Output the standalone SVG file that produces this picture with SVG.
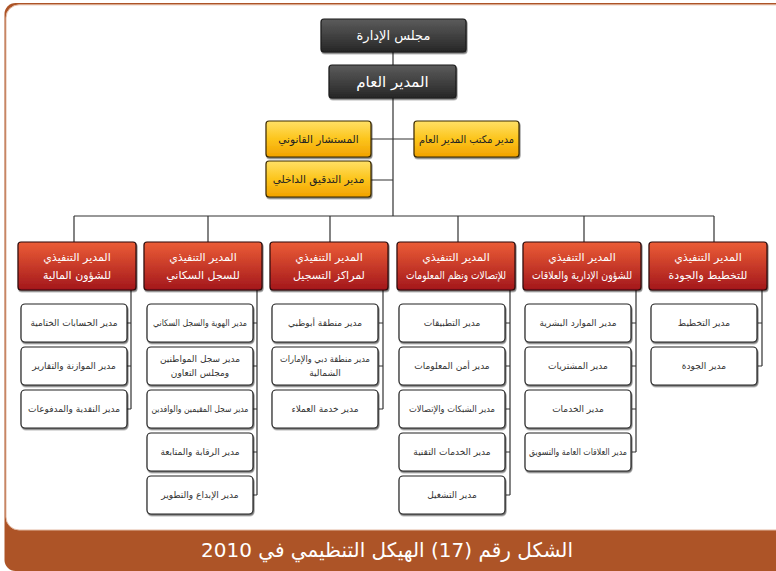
<svg xmlns="http://www.w3.org/2000/svg" width="776" height="571" viewBox="0 0 776 571">
<style>
text{font-family:"DejaVu Sans",sans-serif;direction:rtl;text-anchor:middle}
.dk{fill:url(#gDark);stroke:#1a1a1a;stroke-width:1.2}
.yl{fill:url(#gYel);stroke:#3a2a00;stroke-width:1.2}
.rd{fill:url(#gRed);stroke:#2a0a0a;stroke-width:1.2}
.sb{fill:#fff;stroke:#222;stroke-width:1.2}
.wt{fill:#fff}
.yt{fill:#222;font-size:10.5px}
.st{fill:#333;font-size:9px}
.hd{fill:#fff;font-size:11px}
.ln{stroke:#333;stroke-width:1.2;fill:none}
</style>
<defs>
<linearGradient id="gDark" x1="0" y1="0" x2="0" y2="1"><stop offset="0" stop-color="#5c5c5c"/><stop offset="1" stop-color="#262626"/></linearGradient>
<linearGradient id="gYel" x1="0" y1="0" x2="0" y2="1"><stop offset="0" stop-color="#ffe066"/><stop offset="0.5" stop-color="#fcc51c"/><stop offset="1" stop-color="#f2a200"/></linearGradient>
<linearGradient id="gRed" x1="0" y1="0" x2="0" y2="1"><stop offset="0" stop-color="#ec5d36"/><stop offset="1" stop-color="#a3171c"/></linearGradient>
<filter id="sh" x="-10%" y="-10%" width="120%" height="130%"><feDropShadow dx="0.8" dy="1.5" stdDeviation="0.7" flood-color="#000" flood-opacity="0.55"/></filter>
</defs>

<g id="frame">
<rect x="4.5" y="3" width="800" height="568" rx="11" fill="#ad5427"/>
<rect x="6" y="4.8" width="800" height="525.2" rx="13" fill="#fff" stroke="#e2b9a3" stroke-width="1"/>
<text x="387" y="557" style="fill:#fff;font-size:20px">الشكل رقم (17) الهيكل التنظيمي في 2010</text>
</g>

<g id="connectors" class="ln">
<path d="M393 52V216M74 216H714M371 139H414M371 180H393"/>
<path d="M74 216V242M208 216V242M330 216V242M458 216V242M584 216V242M714 216V242"/>
<path d="M131 290V409M127 323H131M127 366H131M127 409H131"/>
<path d="M257 290V495M253 323H257M253 366H257M253 409H257M253 452H257M253 495H257"/>
<path d="M383 290V409M379 323H383M379 366H383M379 409H383"/>
<path d="M510 290V495M506 323H510M506 366H510M506 409H510M506 452H510M506 495H510"/>
<path d="M636 290V452M632 323H636M632 366H636M632 409H636M632 452H636"/>
<path d="M762 290V366M758 323H762M758 366H762"/>
</g>

<g id="board"><rect class="dk" x="321" y="19" width="145" height="33" rx="3" filter="url(#sh)"/><text class="wt" x="393.5" y="40" style="font-size:13px">مجلس الإدارة</text></g>
<g id="ceo"><rect class="dk" x="329" y="65" width="127" height="33" rx="3" filter="url(#sh)"/><text class="wt" x="392.5" y="87" style="font-size:15px">المدير العام</text></g>
<g id="legal"><rect class="yl" x="266" y="121" width="105" height="36" rx="3" filter="url(#sh)"/><text class="yt" x="318.5" y="143">المستشار القانوني</text></g>
<g id="audit"><rect class="yl" x="266" y="161" width="105" height="36" rx="3" filter="url(#sh)"/><text class="yt" x="318.5" y="183">مدير التدقيق الداخلي</text></g>
<g id="office"><rect class="yl" x="414" y="121" width="105" height="36" rx="3" filter="url(#sh)"/><text class="yt" x="466.5" y="143" textLength="95" lengthAdjust="spacingAndGlyphs">مدير مكتب المدير العام</text></g>

<g id="exec-finance"><rect class="rd" x="18" y="242" width="118" height="48" rx="3" filter="url(#sh)"/><text class="hd" x="77" y="261">المدير التنفيذي</text><text class="hd" x="77" y="279">للشؤون المالية</text></g>
<g id="exec-population"><rect class="rd" x="144" y="242" width="118" height="48" rx="3" filter="url(#sh)"/><text class="hd" x="203" y="261">المدير التنفيذي</text><text class="hd" x="203" y="279">للسجل السكاني</text></g>
<g id="exec-centers"><rect class="rd" x="270" y="242" width="118" height="48" rx="3" filter="url(#sh)"/><text class="hd" x="329" y="261">المدير التنفيذي</text><text class="hd" x="329" y="279">لمراكز التسجيل</text></g>
<g id="exec-it"><rect class="rd" x="397" y="242" width="118" height="48" rx="3" filter="url(#sh)"/><text class="hd" x="456" y="261">المدير التنفيذي</text><text class="hd" x="456" y="279" textLength="100" lengthAdjust="spacingAndGlyphs">للإتصالات ونظم المعلومات</text></g>
<g id="exec-admin"><rect class="rd" x="523" y="242" width="118" height="48" rx="3" filter="url(#sh)"/><text class="hd" x="582" y="261">المدير التنفيذي</text><text class="hd" x="582" y="279" textLength="100" lengthAdjust="spacingAndGlyphs">للشؤون الإدارية والعلاقات</text></g>
<g id="exec-planning"><rect class="rd" x="649" y="242" width="118" height="48" rx="3" filter="url(#sh)"/><text class="hd" x="708" y="261">المدير التنفيذي</text><text class="hd" x="708" y="279">للتخطيط والجودة</text></g>

<g id="f1"><rect class="sb" x="21" y="304" width="106" height="38" rx="4" filter="url(#sh)"/><text class="st" x="74" y="326">مدير الحسابات الختامية</text></g>
<g id="f2"><rect class="sb" x="21" y="347" width="106" height="38" rx="4" filter="url(#sh)"/><text class="st" x="74" y="369">مدير الموازنة والتقارير</text></g>
<g id="f3"><rect class="sb" x="21" y="390" width="106" height="38" rx="4" filter="url(#sh)"/><text class="st" x="74" y="412" textLength="92" lengthAdjust="spacingAndGlyphs">مدير النقدية والمدفوعات</text></g>

<g id="p1"><rect class="sb" x="147" y="304" width="106" height="38" rx="4" filter="url(#sh)"/><text class="st" x="200" y="326" textLength="94" lengthAdjust="spacingAndGlyphs">مدير الهوية والسجل السكاني</text></g>
<g id="p2"><rect class="sb" x="147" y="347" width="106" height="38" rx="4" filter="url(#sh)"/><text class="st" x="200" y="362">مدير سجل المواطنين</text><text class="st" x="200" y="376">ومجلس التعاون</text></g>
<g id="p3"><rect class="sb" x="147" y="390" width="106" height="38" rx="4" filter="url(#sh)"/><text class="st" x="200" y="412" textLength="97" lengthAdjust="spacingAndGlyphs">مدير سجل المقيمين والوافدين</text></g>
<g id="p4"><rect class="sb" x="147" y="433" width="106" height="38" rx="4" filter="url(#sh)"/><text class="st" x="200" y="455">مدير الرقابة والمتابعة</text></g>
<g id="p5"><rect class="sb" x="147" y="476" width="106" height="38" rx="4" filter="url(#sh)"/><text class="st" x="200" y="498">مدير الإبداع والتطوير</text></g>

<g id="c1"><rect class="sb" x="272" y="304" width="106" height="38" rx="4" filter="url(#sh)"/><text class="st" x="325" y="326">مدير منطقة أبوظبي</text></g>
<g id="c2"><rect class="sb" x="272" y="347" width="106" height="38" rx="4" filter="url(#sh)"/><text class="st" x="325" y="362" textLength="90" lengthAdjust="spacingAndGlyphs">مدير منطقة دبي والإمارات</text><text class="st" x="325" y="376">الشمالية</text></g>
<g id="c3"><rect class="sb" x="272" y="390" width="106" height="38" rx="4" filter="url(#sh)"/><text class="st" x="325" y="412">مدير خدمة العملاء</text></g>

<g id="i1"><rect class="sb" x="399" y="304" width="106" height="38" rx="4" filter="url(#sh)"/><text class="st" x="452" y="326">مدير التطبيقات</text></g>
<g id="i2"><rect class="sb" x="399" y="347" width="106" height="38" rx="4" filter="url(#sh)"/><text class="st" x="452" y="369">مدير أمن المعلومات</text></g>
<g id="i3"><rect class="sb" x="399" y="390" width="106" height="38" rx="4" filter="url(#sh)"/><text class="st" x="452" y="412" textLength="86" lengthAdjust="spacingAndGlyphs">مدير الشبكات والإتصالات</text></g>
<g id="i4"><rect class="sb" x="399" y="433" width="106" height="38" rx="4" filter="url(#sh)"/><text class="st" x="452" y="455">مدير الخدمات التقنية</text></g>
<g id="i5"><rect class="sb" x="399" y="476" width="106" height="38" rx="4" filter="url(#sh)"/><text class="st" x="452" y="498">مدير التشغيل</text></g>

<g id="a1"><rect class="sb" x="525" y="304" width="106" height="38" rx="4" filter="url(#sh)"/><text class="st" x="578" y="326">مدير الموارد البشرية</text></g>
<g id="a2"><rect class="sb" x="525" y="347" width="106" height="38" rx="4" filter="url(#sh)"/><text class="st" x="578" y="369">مدير المشتريات</text></g>
<g id="a3"><rect class="sb" x="525" y="390" width="106" height="38" rx="4" filter="url(#sh)"/><text class="st" x="578" y="412">مدير الخدمات</text></g>
<g id="a4"><rect class="sb" x="525" y="433" width="106" height="38" rx="4" filter="url(#sh)"/><text class="st" x="578" y="455" textLength="98" lengthAdjust="spacingAndGlyphs">مدير العلاقات العامة والتسويق</text></g>

<g id="q1"><rect class="sb" x="651" y="304" width="106" height="38" rx="4" filter="url(#sh)"/><text class="st" x="704" y="326">مدير التخطيط</text></g>
<g id="q2"><rect class="sb" x="651" y="347" width="106" height="38" rx="4" filter="url(#sh)"/><text class="st" x="704" y="369">مدير الجودة</text></g>
</svg>
